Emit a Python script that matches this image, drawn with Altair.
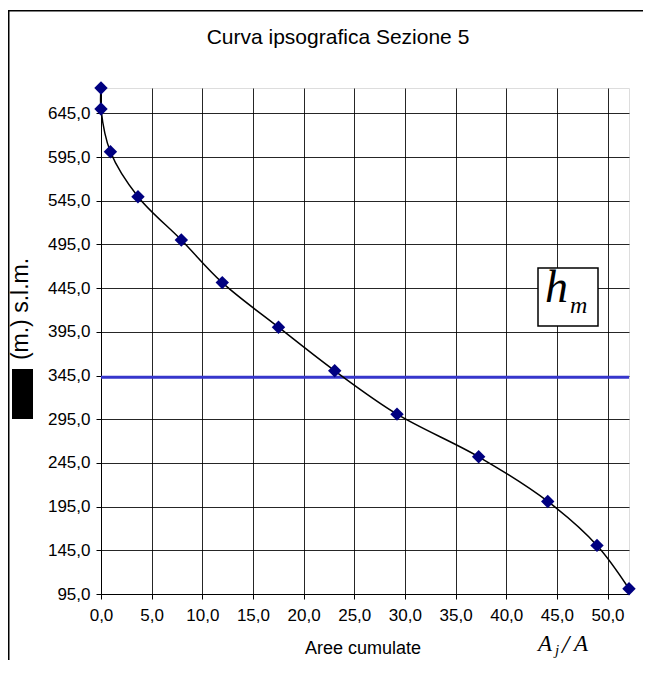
import altair as alt
import pandas as pd

# Data
area = [0.0, 0.0, 0.93, 3.65, 7.93, 11.97, 17.52, 23.07, 29.22, 37.28, 44.1, 48.96, 52.12]
quota = [674.0, 650.0, 601.0, 549.6, 500.1, 451.3, 400.3, 350.4, 300.8, 252.0, 200.9, 150.6, 101.0]
order = list(range(len(area)))
hm = 343.0
x_ticks = [0, 5, 10, 15, 20, 25, 30, 35, 40, 45, 50]
y_ticks = [95, 145, 195, 245, 295, 345, 395, 445, 495, 545, 595, 645]
x_domain = [0, 52.12]
y_domain = [95, 674]

title_text = "Curva ipsografica Sezione 5"
x_title = "Aree cumulate"
y_title = "(m.) s.l.m."

df = pd.DataFrame({"area": area, "quota": quota, "ord": order})
one = pd.DataFrame({"k": [0]})

SANS = "Liberation Sans"
SERIF = "Liberation Serif"
LBL = "replace(format(datum.value, '.1f'), '.', ',')"

x_enc = alt.X(
    "area:Q",
    scale=alt.Scale(domain=x_domain, nice=False, zero=False),
    axis=alt.Axis(values=x_ticks, labelExpr=LBL, title=None, grid=True,
                  gridColor="#000000", gridOpacity=0.85, gridWidth=1,
                  domainColor="#000000", tickColor="#000000", tickSize=5,
                  labelFont=SANS, labelFontSize=17, labelColor="#000000",
                  labelPadding=8, labelFlush=False, labelOverlap=False),
)
y_enc = alt.Y(
    "quota:Q",
    scale=alt.Scale(domain=y_domain, nice=False, zero=False),
    axis=alt.Axis(values=y_ticks, labelExpr=LBL, title=None, grid=True,
                  gridColor="#000000", gridOpacity=0.85, gridWidth=1,
                  domainColor="#000000", tickColor="#000000", tickSize=5,
                  labelFont=SANS, labelFontSize=17, labelColor="#000000",
                  labelPadding=6, labelFlush=False, labelOverlap=False),
)

base = alt.Chart(df)

curve = base.mark_line(interpolate="catmull-rom", color="#000000", strokeWidth=1.5).encode(
    x=x_enc, y=y_enc, order="ord:Q"
)
pts = base.mark_point(shape="diamond", filled=True, size=180, color="#000080", opacity=1).encode(
    x=x_enc, y=y_enc
)
hm_line = alt.Chart(one).mark_rule(color="#3636cc", strokeWidth=3).encode(y=alt.datum(hm))

def txt(s, x, y, **kw):
    return alt.Chart(one).mark_text(**kw).encode(
        x=alt.value(x), y=alt.value(y), text=alt.value(s)
    )

def bar(x, x2, y, y2, color="#000000"):
    return alt.Chart(one).mark_rect(fill=color, strokeWidth=0).encode(
        x=alt.value(x), x2=alt.value(x2), y=alt.value(y), y2=alt.value(y2)
    )

frame_top = bar(-93, 542, -78, -76.5)
frame_left = bar(-93, -91.5, -78, 590)
box = alt.Chart(one).mark_rect(fill="#ffffff", stroke="#000000", strokeWidth=1.5).encode(
    x=alt.value(437), x2=alt.value(497), y=alt.value(180), y2=alt.value(238)
)
redact = bar(-89, -68, 281, 331)

title = txt(title_text, 237, -44, font=SANS, fontSize=21, align="center", baseline="alphabetic", color="#000000")
xt = txt(x_title, 262, 566, font=SANS, fontSize=18, align="center", baseline="alphabetic", color="#000000")
yt = txt(y_title, -73, 221, font=SANS, fontSize=23, align="center", baseline="alphabetic", angle=270, color="#000000")

h = txt("h", 444, 214, font=SERIF, fontStyle="italic", fontSize=46, align="left", baseline="alphabetic", color="#000000")
m = txt("m", 469, 225, font=SERIF, fontStyle="italic", fontSize=24, align="left", baseline="alphabetic", color="#000000")

a1 = txt("A", 437, 563, font=SERIF, fontStyle="italic", fontSize=23, align="left", baseline="alphabetic", color="#000000")
aj = txt("j", 454, 567, font=SERIF, fontStyle="italic", fontSize=15, align="left", baseline="alphabetic", color="#000000")
sl = txt("/", 461, 565, font=SERIF, fontStyle="italic", fontSize=26, align="left", baseline="alphabetic", color="#000000")
a2 = txt("A", 473, 563, font=SERIF, fontStyle="italic", fontSize=23, align="left", baseline="alphabetic", color="#000000")

chart = alt.layer(
    frame_top, frame_left, hm_line, curve, pts, box, redact, title, xt, yt, h, m, a1, aj, sl, a2
).properties(
    width=528, height=506,
    autosize=alt.AutoSizeParams(type="none"),
    padding={"left": 93, "top": 80, "right": 22, "bottom": 66},
).configure_view(stroke="#999999", strokeWidth=2).configure(background="#ffffff")

chart.save("out.html", embed_options={"renderer": "svg", "actions": False})
